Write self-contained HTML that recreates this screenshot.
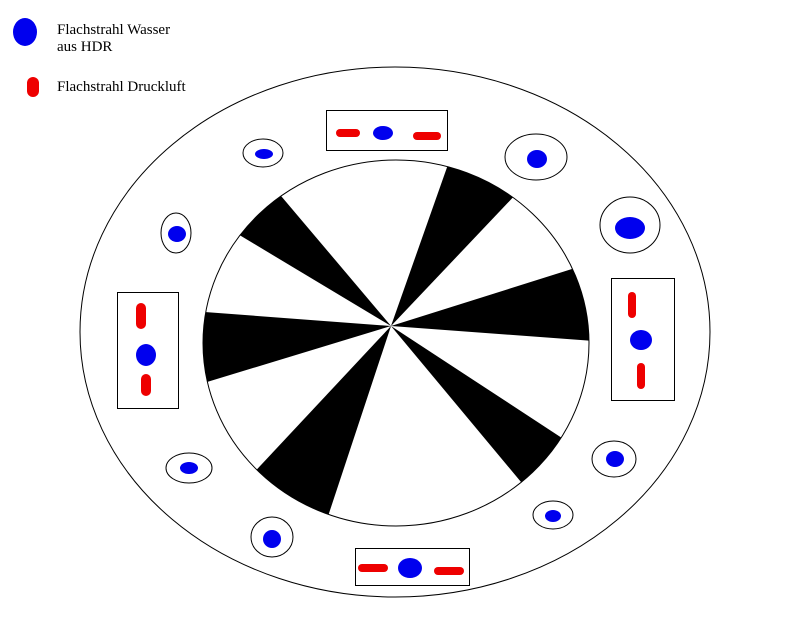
<!DOCTYPE html>
<html><head><meta charset="utf-8"><style>html,body{margin:0;padding:0;background:#fff}svg{display:block}</style></head>
<body>
<svg width="800" height="627" viewBox="0 0 800 627" xmlns="http://www.w3.org/2000/svg">
<defs><clipPath id="c"><ellipse cx="396" cy="343" rx="193" ry="183"/></clipPath></defs>
<rect width="800" height="627" fill="#fff"/>
<ellipse cx="25" cy="32" rx="12" ry="14" fill="#0000ee"/>
<rect x="27" y="77" width="12" height="20" rx="6" fill="#ee0000"/>
<g font-family="Liberation Serif, serif" font-size="15" fill="#000">
<text x="57" y="34">Flachstrahl Wasser</text>
<text x="57" y="51">aus HDR</text>
<text x="57" y="91">Flachstrahl Druckluft</text>
</g>
<ellipse cx="395" cy="332" rx="315" ry="265" fill="none" stroke="#000" stroke-width="1"/>
<g clip-path="url(#c)" fill="#000">
<polygon points="391,326 227,132 166,191"/>
<polygon points="391,326 475,88 573,134"/>
<polygon points="391,326 661,241 688,348"/>
<polygon points="391,326 649,495 586,560"/>
<polygon points="391,326 190,541 294,619"/>
<polygon points="391,326 112,305 115,410"/>
</g>
<ellipse cx="396" cy="343" rx="193" ry="183" fill="none" stroke="#000" stroke-width="1"/>
<g fill="none" stroke="#000" stroke-width="1">
<ellipse cx="263" cy="153" rx="20" ry="14"/>
<ellipse cx="536" cy="157" rx="31" ry="23"/>
<ellipse cx="176" cy="233" rx="15" ry="20"/>
<ellipse cx="630" cy="225" rx="30" ry="28"/>
<ellipse cx="189" cy="468" rx="23" ry="15"/>
<ellipse cx="614" cy="459" rx="22" ry="18"/>
<ellipse cx="553" cy="515" rx="20" ry="14"/>
<ellipse cx="272" cy="537" rx="21" ry="20"/>
<rect x="326.5" y="110.5" width="121" height="40"/>
<rect x="117.5" y="292.5" width="61" height="116"/>
<rect x="611.5" y="278.5" width="63" height="122"/>
<rect x="355.5" y="548.5" width="114" height="37"/>
</g>
<g fill="#0000ee">
<ellipse cx="264" cy="154" rx="9" ry="5"/>
<ellipse cx="537" cy="159" rx="10" ry="9"/>
<ellipse cx="177" cy="234" rx="9" ry="8"/>
<ellipse cx="630" cy="228" rx="15" ry="11"/>
<ellipse cx="189" cy="468" rx="9" ry="6"/>
<ellipse cx="615" cy="459" rx="9" ry="8"/>
<ellipse cx="553" cy="516" rx="8" ry="6"/>
<ellipse cx="272" cy="539" rx="9" ry="9"/>
<ellipse cx="383" cy="133" rx="10" ry="7"/>
<ellipse cx="146" cy="355" rx="10" ry="11"/>
<ellipse cx="641" cy="340" rx="11" ry="10"/>
<ellipse cx="410" cy="568" rx="12" ry="10"/>
</g>
<g fill="#ee0000">
<rect x="336" y="129" width="24" height="8" rx="4"/>
<rect x="413" y="132" width="28" height="8" rx="4"/>
<rect x="136" y="303" width="10" height="26" rx="5"/>
<rect x="141" y="374" width="10" height="22" rx="5"/>
<rect x="628" y="292" width="8" height="26" rx="4"/>
<rect x="637" y="363" width="8" height="26" rx="4"/>
<rect x="358" y="564" width="30" height="8" rx="4"/>
<rect x="434" y="567" width="30" height="8" rx="4"/>
</g>
</svg>
</body></html>
